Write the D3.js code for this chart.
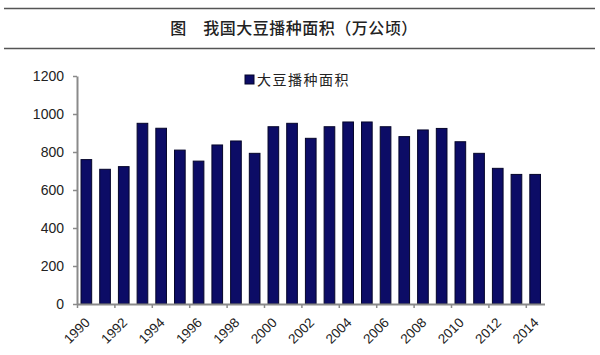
<!DOCTYPE html>
<html><head><meta charset="utf-8">
<script src="https://cdn.jsdelivr.net/npm/d3@7"></script>
<style>html,body{margin:0;padding:0;background:#fff;}svg{display:block;}</style>
</head><body>
<script>
const title = "图　我国大豆播种面积（万公顷）";
const seriesName = "大豆播种面积";
const years = ["1990","1991","1992","1993","1994","1995","1996","1997","1998","1999","2000","2001","2002","2003","2004","2005","2006","2007","2008","2009","2010","2011","2012","2013","2014"];
const area = [760,709,723,951,925,810,752,837,858,793,933,951,872,933,958,958,933,881,916,924,854,793,714,682,682];
const yTicks = [0,200,400,600,800,1000,1200];
const xLabelYears = years.filter((d,i)=>i%2===0);

const W=600,H=355;
const svg=d3.select("body").append("svg").attr("width",W).attr("height",H);

// header rules and title
svg.append("line").attr("x1",4).attr("x2",595).attr("y1",8.5).attr("y2",8.5).attr("stroke","#555").attr("stroke-width",1.5);
svg.append("line").attr("x1",4).attr("x2",595).attr("y1",48.5).attr("y2",48.5).attr("stroke","#555").attr("stroke-width",1.5);
svg.append("text").attr("x",294).attr("y",34).attr("text-anchor","middle")
  .attr("font-family","'Noto Sans CJK SC'").attr("font-size",16).attr("font-weight",500)
  .attr("letter-spacing",0.5).attr("fill","#222").text(title);

const mL=77,mR=544.5,mT=76,mB=304;
const x=d3.scaleBand().domain(years).range([mL,mR]).paddingInner(0.43).paddingOuter(0.215);
const y=d3.scaleLinear().domain([0,1200]).range([mB,mT]);
const xi=d3.scaleLinear().domain([0,years.length]).range([mL,mR]);

// bars
svg.append("g").selectAll("rect").data(area).join("rect")
  .attr("x",(d,i)=>x(years[i])).attr("width",x.bandwidth())
  .attr("y",d=>y(d)).attr("height",d=>y(0)-y(d))
  .attr("fill","#0c0c66").attr("stroke","#05052a").attr("stroke-width",1);

// y axis
const ya=svg.append("g").attr("transform",`translate(${mL},0)`)
  .call(d3.axisLeft(y).tickValues(yTicks).tickFormat(d3.format("d")).tickSize(4).tickSizeOuter(0).tickPadding(9));
ya.select(".domain").attr("stroke","#8a8a8a").attr("stroke-width",2);
ya.selectAll(".tick line").attr("stroke","#8a8a8a").attr("stroke-width",1.5);
ya.selectAll(".tick text").attr("font-family","'Liberation Sans',Arial").attr("font-size",14).attr("fill","#222");

// x axis
const xa=svg.append("g").attr("transform",`translate(0,${mB})`)
  .call(d3.axisBottom(xi).tickValues(d3.range(0,years.length,2)).tickSize(4).tickSizeOuter(0).tickFormat(""));
xa.select(".domain").attr("stroke","#8a8a8a").attr("stroke-width",2);
xa.selectAll(".tick line").attr("stroke","#8a8a8a").attr("stroke-width",1.5);

// x labels
svg.append("g").selectAll("text").data(xLabelYears).join("text")
  .attr("transform",d=>`translate(${x(d)+x.bandwidth()/2+1},${mB+16}) rotate(-45)`)
  .attr("text-anchor","end").attr("dy","0.35em")
  .attr("font-family","'Liberation Sans',Arial").attr("font-size",13.5).attr("fill","#222")
  .text(d=>d);

// legend
svg.append("rect").attr("x",245).attr("y",75).attr("width",9).attr("height",9).attr("fill","#0c0c66").attr("stroke","#05052a");
svg.append("text").attr("x",257).attr("y",84.5).attr("font-family","'Noto Sans CJK SC'").attr("font-size",14)
  .attr("letter-spacing",1.5).attr("fill","#222").text(seriesName);
</script>
</body></html>
